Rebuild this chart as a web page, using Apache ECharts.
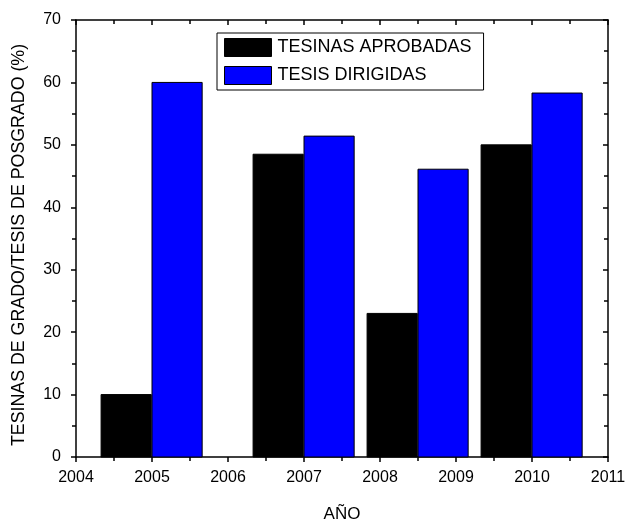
<!DOCTYPE html>
<html>
<head>
<meta charset="utf-8">
<script src="https://cdn.jsdelivr.net/npm/echarts@6/dist/echarts.min.js"></script>
<style>
  html, body { margin: 0; padding: 0; background: #fff; }
  #chart { width: 627px; height: 519px; }
</style>
</head>
<body>
<div id="chart"></div>
<script>
// left edge (year) of each bar, and its height in %
const tesinasStart = [2004.33, 2006.33, 2007.83, 2009.33]
const tesinasValues = [10, 48.5, 23, 50]
const tesisStart = [2005, 2007, 2008.5, 2010]
const tesisValues = [60, 51.4, 46.1, 58.3]
const barSpan = 0.66
const xTicks = [2004, 2005, 2006, 2007, 2008, 2009, 2010, 2011]
const yTicks = [0, 10, 20, 30, 40, 50, 60, 70]

const font = 'Liberation Sans, Arial, sans-serif'

function toBars(starts, values) {
	return starts.map((s, i) => [s, s + barSpan, values[i]])
}

function renderBar(params, api) {
	const p0 = api.coord([api.value(0), api.value(2)])
	const p1 = api.coord([api.value(1), 0])
	return {
		type: 'rect',
		shape: { x: p0[0], y: p0[1], width: p1[0] - p0[0], height: p1[1] - p0[1] },
		style: api.style()
	}
}

const baseX = {
	type: 'value',
	min: xTicks[0],
	max: xTicks[xTicks.length - 1],
	interval: 1,
	splitLine: { show: false },
	axisLine: { show: true, onZero: false, lineStyle: { color: '#000', width: 1.5 } },
	minorTick: { show: true, splitNumber: 2, length: 4, lineStyle: { color: '#000', width: 1.5 } },
	axisTick: { show: true, length: 5, lineStyle: { color: '#000', width: 1.5 } }
}
const baseY = {
	type: 'value',
	min: yTicks[0],
	max: yTicks[yTicks.length - 1],
	interval: 10,
	splitLine: { show: false },
	axisLine: { show: true, onZero: false, lineStyle: { color: '#000', width: 1.5 } },
	minorTick: { show: true, splitNumber: 2, length: 4, lineStyle: { color: '#000', width: 1.5 } },
	axisTick: { show: true, length: 5, lineStyle: { color: '#000', width: 1.5 } }
}

const option = {
	backgroundColor: '#fff',
	animation: false,
	grid: { left: 76, right: 19, top: 20, bottom: 62, containLabel: false, outerBoundsMode: 'none' },
	legend: {
		orient: 'vertical',
		left: 217,
		top: 33,
		padding: [5, 12, 5, 7],
		itemWidth: 47,
		itemHeight: 18,
		itemGap: 9,
		borderColor: '#000',
		borderWidth: 1,
		textStyle: { color: '#000', fontFamily: font, fontSize: 18, lineHeight: 18, padding: [0, 0, 0, 1] },
		data: [
			{ name: 'TESINAS APROBADAS', icon: 'rect', itemStyle: { color: '#000', borderColor: '#000', borderWidth: 1 } },
			{ name: 'TESIS DIRIGIDAS', icon: 'rect', itemStyle: { color: '#0000ff', borderColor: '#000', borderWidth: 1 } }
		]
	},
	xAxis: [
		Object.assign({}, baseX, {
			position: 'bottom',
			name: 'AÑO',
			nameLocation: 'middle',
			nameGap: 49,
			nameTextStyle: { color: '#000', fontFamily: font, fontSize: 17 },
			axisLabel: { color: '#000', fontFamily: font, fontSize: 16, margin: 13, formatter: (v) => String(v) }
		}),
		Object.assign({}, baseX, {
			position: 'top',
			axisTick: Object.assign({}, baseX.axisTick, { inside: true }),
			minorTick: Object.assign({}, baseX.minorTick),
			axisLabel: { show: false }
		})
	],
	yAxis: [
		Object.assign({}, baseY, {
			position: 'left',
			name: 'TESINAS DE GRADO/TESIS DE POSGRADO (%)',
			nameLocation: 'middle',
			nameGap: 48,
			nameTextStyle: { color: '#000', fontFamily: font, fontSize: 17.8, padding: [0, 13, 0, 0] },
			axisLabel: { color: '#000', fontFamily: font, fontSize: 16, margin: 15 }
		}),
		Object.assign({}, baseY, {
			position: 'right',
			axisTick: Object.assign({}, baseY.axisTick, { inside: true }),
			axisLabel: { show: false }
		})
	],
	series: [
		{
			name: 'TESINAS APROBADAS',
			type: 'custom',
			renderItem: renderBar,
			xAxisIndex: 0,
			yAxisIndex: 0,
			encode: { x: [0, 1], y: 2 },
			itemStyle: { color: '#000', borderColor: '#000', borderWidth: 1 },
			data: toBars(tesinasStart, tesinasValues)
		},
		{
			name: 'TESIS DIRIGIDAS',
			type: 'custom',
			renderItem: renderBar,
			xAxisIndex: 0,
			yAxisIndex: 0,
			encode: { x: [0, 1], y: 2 },
			itemStyle: { color: '#0000ff', borderColor: '#000', borderWidth: 1 },
			data: toBars(tesisStart, tesisValues)
		}
	]
}

const myChart = echarts.init(document.getElementById('chart'))
option && myChart.setOption(option)
</script>
</body>
</html>
